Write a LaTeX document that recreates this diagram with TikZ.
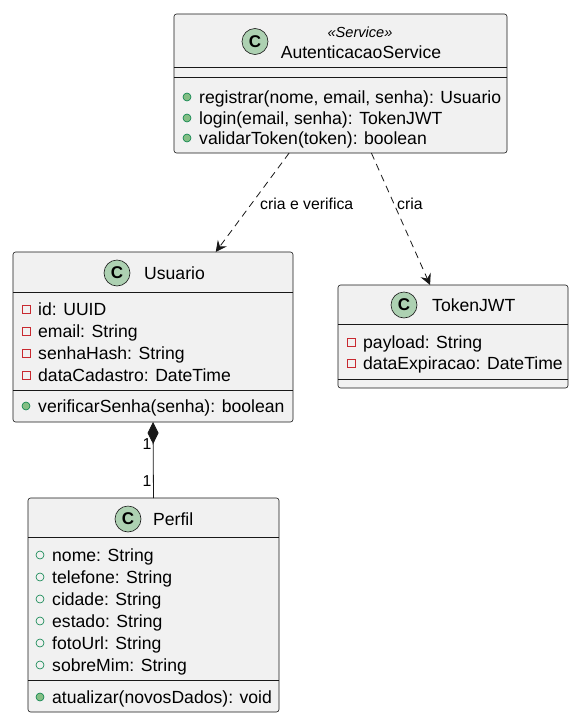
\documentclass[tikz,border=0pt]{standalone}
\usepackage{fontspec}
\setmainfont{Liberation Sans}
\usetikzlibrary{arrows.meta}
\definecolor{boxfill}{HTML}{F1F1F1}
\definecolor{ink}{HTML}{181818}
\definecolor{spotfill}{HTML}{ADD1B2}
\definecolor{privred}{HTML}{C82930}
\definecolor{pubgreen}{HTML}{038048}
\definecolor{pubfill}{HTML}{84BE84}
\begin{document}
\begin{tikzpicture}[x=1pt,y=-1pt,
  classbox/.style={draw=ink, fill=boxfill, rounded corners=2.5pt, line width=0.6pt,
    inner sep=0pt, outer sep=0pt, anchor=north west},
  sep/.style={draw=ink, line width=0.6pt},
  member/.style={anchor=base west, inner sep=0pt, font=\fontsize{17.6}{19}\selectfont},
  classname/.style={anchor=base west, inner sep=0pt, font=\fontsize{17.6}{19}\selectfont},
  spot/.style={circle, draw=ink, fill=spotfill, line width=0.6pt, minimum size=26pt,
    inner sep=0pt, font=\fontsize{17}{17}\selectfont\bfseries},
  privattr/.style={rectangle, draw=privred, line width=0.6pt, minimum size=8pt, inner sep=0pt},
  pubattr/.style={circle, draw=pubgreen, line width=0.6pt, minimum size=8pt, inner sep=0pt},
  pubop/.style={circle, draw=pubgreen, fill=pubfill, line width=0.6pt, minimum size=8pt, inner sep=0pt},
  dep/.style={draw=ink, line width=0.8pt, dash pattern=on 7pt off 5pt,
    -{Stealth[length=11pt,width=11pt,inset=4pt,fill=ink,line width=0.8pt]}},
  edgelabel/.style={anchor=base west, inner sep=0pt, font=\fontsize{15.8}{17}\selectfont},
]
\useasboundingbox (0,0) rectangle (572,715);
\fill[white] (0,0) rectangle (572,715);

% ---- AutenticacaoService ----
\node[classbox, minimum width=333pt, minimum height=139pt] (svc) at (174,14) {};
\draw[sep] (174,67) -- (507,67);
\draw[sep] (174,77) -- (507,77);
\node[spot] (svc-c) at (255,41.5) {C};
\node[anchor=base, inner sep=0pt, font=\fontsize{14.6}{15}\selectfont\itshape] (svc-st) at (360,37) {«Service»};
\node[anchor=base, inner sep=0pt, font=\fontsize{17.6}{19}\selectfont] (svc-name) at (361,58) {AutenticacaoService};
\foreach \i/\yy/\t in {1/103/{registrar(nome, email, senha): Usuario},
                       2/124/{login(email, senha): TokenJWT},
                       3/144/{validarToken(token): boolean}}{
  \node[pubop] (svc-m\i-icon) at (187,\yy-6) {};
  \node[member] (svc-m\i) at (199,\yy) {\t};
}

% ---- Usuario ----
\node[classbox, minimum width=280pt, minimum height=170pt] (usr) at (13,252) {};
\draw[sep] (13,292) -- (293,292);
\draw[sep] (13,390) -- (293,390);
\node[spot] (usr-c) at (117,273) {C};
\node[classname] (usr-name) at (144,279) {Usuario};
\foreach \i/\yy/\t in {1/315/{id: UUID},
                       2/337/{email: String},
                       3/359/{senhaHash: String},
                       4/381/{dataCadastro: DateTime}}{
  \node[privattr] (usr-f\i-icon) at (26,\yy-6) {};
  \node[member] (usr-f\i) at (38,\yy) {\t};
}
\node[pubop] (usr-m1-icon) at (26,406) {};
\node[member] (usr-m1) at (38,412) {verificarSenha(senha): boolean};

% ---- TokenJWT ----
\node[classbox, minimum width=230pt, minimum height=103pt] (tok) at (338,285) {};
\draw[sep] (338,324) -- (568,324);
\draw[sep] (338,379) -- (568,379);
\node[spot] (tok-c) at (404,305) {C};
\node[classname] (tok-name) at (432,311) {TokenJWT};
\foreach \i/\yy/\t in {1/348/{payload: String},
                       2/369/{dataExpiracao: DateTime}}{
  \node[privattr] (tok-f\i-icon) at (351,\yy-6) {};
  \node[member] (tok-f\i) at (363,\yy) {\t};
}

% ---- Perfil ----
\node[classbox, minimum width=251pt, minimum height=214pt] (prf) at (28,498) {};
\draw[sep] (28,537) -- (279,537);
\draw[sep] (28,680) -- (279,680);
\node[spot] (prf-c) at (128,519) {C};
\node[classname] (prf-name) at (153,525) {Perfil};
\foreach \i/\yy/\t in {1/561/{nome: String},
                       2/583/{telefone: String},
                       3/605/{cidade: String},
                       4/627/{estado: String},
                       5/649/{fotoUrl: String},
                       6/671/{sobreMim: String}}{
  \node[pubattr] (prf-f\i-icon) at (40,\yy-6) {};
  \node[member] (prf-f\i) at (52,\yy) {\t};
}
\node[pubop] (prf-m1-icon) at (40,697) {};
\node[member] (prf-m1) at (52,703) {atualizar(novosDados): void};

% ---- relations ----
\draw[dep] (svc) -- (usr);
\draw[dep] (svc) -- (tok);
\node[edgelabel] (lbl-usr) at (260,209) {cria e verifica};
\node[edgelabel] (lbl-tok) at (397,209) {cria};

\draw[draw=ink, line width=0.8pt, -{Diamond[length=22pt,width=11pt,fill=ink]}] (prf.north) -- (usr.south);
\node[anchor=base, inner sep=0pt, font=\fontsize{15.8}{17}\selectfont] (m-usr) at (147,449) {1};
\node[anchor=base, inner sep=0pt, font=\fontsize{15.8}{17}\selectfont] (m-prf) at (147,486) {1};
\end{tikzpicture}
\end{document}
